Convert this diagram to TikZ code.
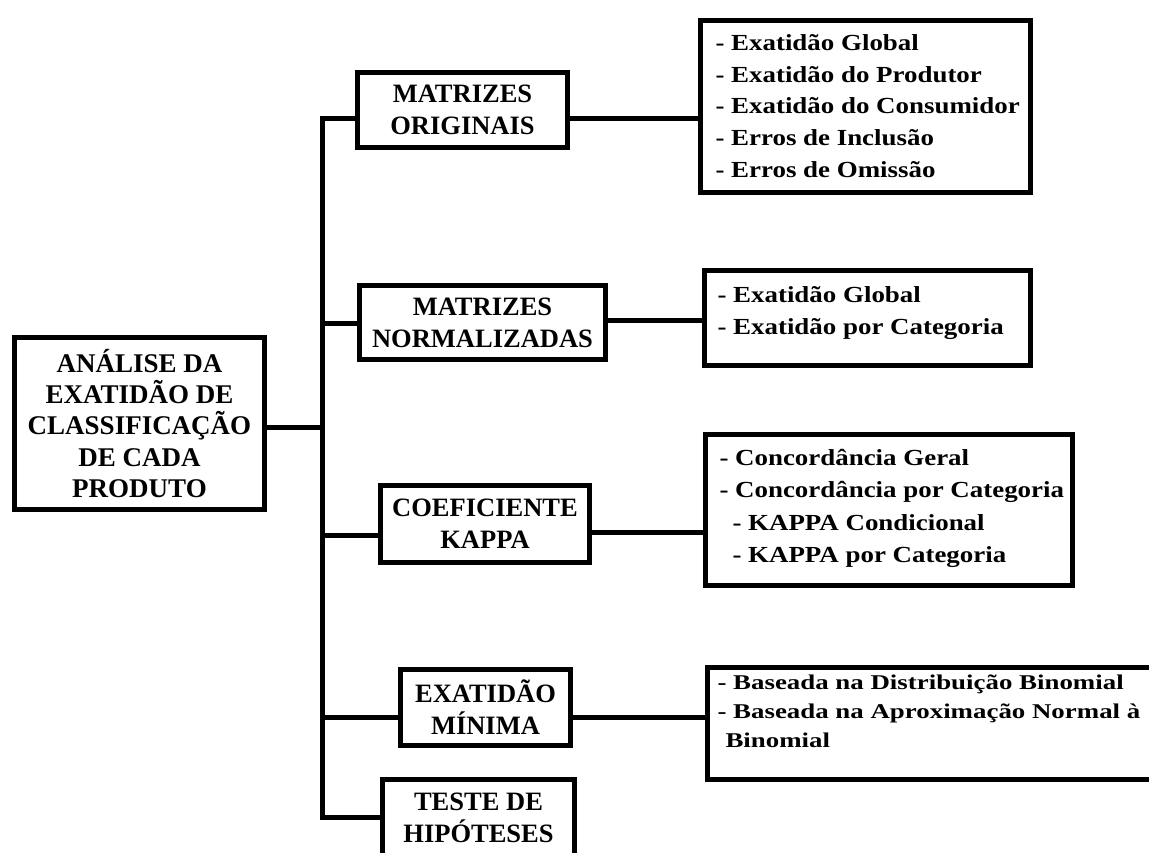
\documentclass[tikz,border=0pt]{standalone}
\usepackage{fontspec}
\setmainfont{Liberation Serif}
\newfontfamily\listfont{Liberation Serif}[FakeStretch=1.17]
\newfontfamily\listfontb{Liberation Serif}[FakeStretch=1.28]
\usetikzlibrary{calc}
\begin{document}
\begin{tikzpicture}[x=1pt,y=-1pt,line width=5pt,
  hbox/.style={draw, rectangle, inner sep=0pt, align=center,
    font=\bfseries\fontsize{26.5}{32}\selectfont},
  mbox/.style={draw, rectangle, inner sep=0pt, align=center,
    font=\bfseries\fontsize{27}{31.3}\selectfont},
  lbox/.style={draw, rectangle, inner sep=0pt},
  ltext/.style={anchor=north west, inner sep=0pt, align=left,
    font=\listfont\bfseries\fontsize{23}{31.7}\selectfont},
  ltextb/.style={anchor=north west, inner sep=0pt, align=left,
    font=\listfontb\bfseries\fontsize{21}{29}\selectfont},
  conn/.style={line width=5pt, line join=miter}]
\useasboundingbox (0,0) rectangle (1149,852);
\fill[white] (0,0) rectangle (1149,852);
\clip (0,0) rectangle (1149,852);

% main box
\node[mbox, minimum width=250pt, minimum height=172pt] (M) at (139.5,423.5)
  {ANÁLISE DA\\EXATIDÃO DE\\CLASSIFICAÇÃO\\DE CADA\\PRODUTO};

% second level boxes
\node[hbox, minimum width=210pt, minimum height=75pt] (A1) at (462.5,110) {MATRIZES\\ORIGINAIS};
\node[hbox, minimum width=246pt, minimum height=74pt] (A2) at (482.5,322.5) {MATRIZES\\NORMALIZADAS};
\node[hbox, minimum width=209pt, minimum height=77pt] (A3) at (485,524) {COEFICIENTE\\KAPPA};
\node[hbox, minimum width=170pt, minimum height=76pt] (A4) at (485.5,707.5) {EXATIDÃO\\MÍNIMA};
\node[hbox, minimum width=192pt, minimum height=90pt] (A5) at (478.5,824.5) {TESTE DE\\HIPÓTESES\rule[-14pt]{0pt}{14pt}};

% list boxes
\node[lbox, minimum width=330pt, minimum height=172pt] (L1) at (865.5,106.5) {};
\node[lbox, minimum width=326pt, minimum height=95pt] (L2) at (867.5,318) {};
\node[lbox, minimum width=367pt, minimum height=151pt] (L3) at (889,510) {};
\node[lbox, minimum width=468pt, minimum height=112pt] (L4) at (941,723.5) {};

\node[ltext] (T1) at (713,25.8) {\strut- Exatidão Global\\- Exatidão do Produtor\\- Exatidão do Consumidor\\- Erros de Inclusão\\- Erros de Omissão};
\node[ltext] (T2) at (715,277.8) {\strut- Exatidão Global\\- Exatidão por Categoria};
\node[ltext, font=\listfont\bfseries\fontsize{23}{32.3}\selectfont] (T3) at (717,440.4) {\strut- Concordância Geral\\- Concordância por Categoria\\\hspace*{13pt}- KAPPA Condicional\\\hspace*{13pt}- KAPPA por Categoria};
\node[ltextb] (T4) at (715,666.7) {\strut- Baseada na Distribuição Binomial\\- Baseada na Aproximação Normal à\\\hspace*{8pt}Binomial};

% junction coordinates on the trunk
\coordinate (j1) at (322,118);
\coordinate (j2) at (322,323);
\coordinate (jm) at (322,427);
\coordinate (j3) at (322,535);
\coordinate (j4) at (322,717);
\coordinate (j5) at (322,817);

% trunk and branches
\draw[conn] (j1 -| A1.west) -- (j1) -- (j5) -- (j5 -| A5.west);
\draw[conn] (M.east |- jm) -- (jm);
\draw[conn] (j2) -- (j2 -| A2.west);
\draw[conn] (j3) -- (j3 -| A3.west);
\draw[conn] (j4) -- (j4 -| A4.west);

% right connectors
\coordinate (r1) at (A1.east |- 0,118);
\coordinate (r2) at (A2.east |- 0,320);
\coordinate (r3) at (A3.east |- 0,532);
\coordinate (r4) at (A4.east |- 0,717);
\draw[conn] (r1) -- (r1 -| L1.west);
\draw[conn] (r2) -- (r2 -| L2.west);
\draw[conn] (r3) -- (r3 -| L3.west);
\draw[conn] (r4) -- (r4 -| L4.west);
\end{tikzpicture}
\end{document}
